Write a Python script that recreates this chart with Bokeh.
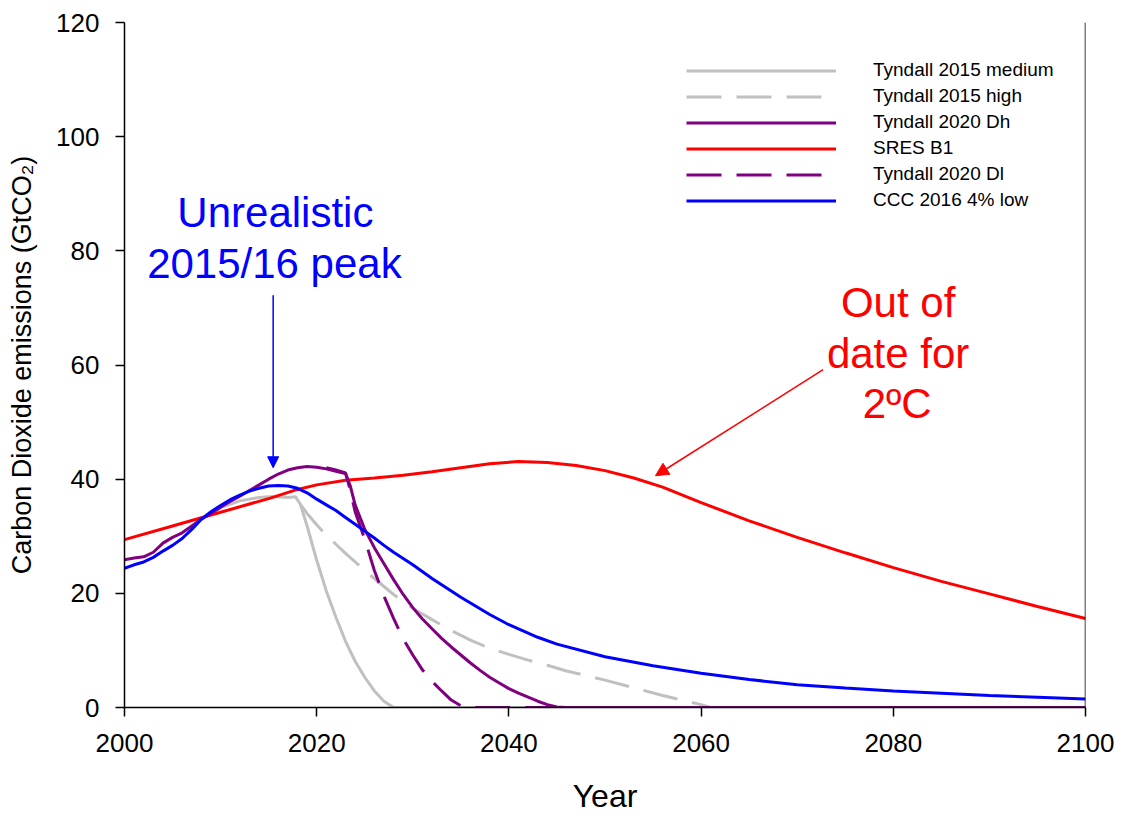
from bokeh.plotting import figure
from bokeh.models import Range1d, Legend, LegendItem, Label, Arrow, NormalHead, Span
from bokeh.embed import file_html
from bokeh.resources import INLINE

FONT = "Liberation Sans"

# ---------------- data ----------------
t15_med_years = [2008, 2010, 2012, 2014, 2015, 2016, 2017, 2017.8, 2018.3, 2019, 2020, 2021, 2022,
                 2023, 2024, 2025, 2026, 2027, 2028, 2100]
t15_med_vals = [33.0, 35.0, 36.2, 36.8, 36.9, 36.9, 36.8, 36.9, 35.6, 31.8, 25.8, 20.4, 15.8,
                11.6, 8.1, 5.3, 2.9, 1.1, 0.0, 0.0]

t15_high_years = [2018.3, 2019, 2020, 2021, 2022, 2023, 2024, 2025, 2026, 2027, 2028, 2030, 2032,
                  2034, 2036, 2038, 2040, 2042, 2044, 2046, 2048, 2050, 2052, 2054, 2056, 2058,
                  2060, 2061, 2100]
t15_high_vals = [35.6, 34.0, 32.0, 30.2, 28.6, 27.0, 25.5, 24.0, 22.6, 21.2, 19.8, 17.4, 15.4,
                 13.5, 11.8, 10.4, 9.3, 8.3, 7.4, 6.4, 5.6, 4.8, 3.9, 3.0, 2.1, 1.3,
                 0.5, 0.0, 0.0]

t20_dh_years = [2000, 2001, 2002, 2003, 2004, 2005, 2006, 2007, 2008, 2009, 2010, 2011, 2012,
                2013, 2014, 2015, 2016, 2017, 2018, 2019, 2020, 2021, 2022, 2023, 2023.5, 2024,
                2025, 2026, 2027, 2028, 2029, 2030, 2031, 2032, 2033, 2034, 2035, 2036, 2037,
                2038, 2039, 2040, 2041, 2042, 2043, 2044, 2045, 2046, 2100]
t20_dh_vals = [25.9, 26.2, 26.4, 27.2, 28.8, 29.8, 30.6, 31.8, 33.0, 34.0, 35.1, 36.1, 37.0,
               38.0, 39.0, 40.0, 40.9, 41.6, 42.0, 42.2, 42.1, 41.8, 41.4, 41.0, 38.8, 35.5,
               31.2, 28.0, 25.2, 22.4, 19.8, 17.5, 15.5, 13.8, 12.1, 10.6, 9.2, 7.8, 6.5,
               5.3, 4.3, 3.3, 2.5, 1.8, 1.1, 0.5, 0.1, 0.0, 0.0]

sres_b1_years = [2000, 2005, 2010, 2015, 2018, 2020, 2023, 2026, 2029, 2032, 2035, 2038, 2041,
                 2044, 2047, 2050, 2053, 2056, 2060, 2065, 2070, 2075, 2080, 2085, 2090, 2095, 2100]
sres_b1_vals = [29.4, 31.8, 34.2, 36.6, 38.2, 39.0, 39.8, 40.2, 40.7, 41.3, 42.0, 42.7, 43.1,
                42.9, 42.4, 41.5, 40.2, 38.6, 35.9, 32.7, 29.8, 27.1, 24.5, 22.1, 19.9, 17.7, 15.6]

t20_dl_years = [2021, 2022, 2023, 2023.5, 2024, 2025, 2026, 2027, 2028, 2029, 2030, 2031, 2032,
                2033, 2034, 2035, 2036, 2100]
t20_dl_vals = [42.0, 41.6, 41.1, 38.0, 34.3, 29.5, 24.0, 19.5, 15.6, 12.0, 9.2, 6.6, 4.6,
               2.9, 1.3, 0.3, 0.0, 0.0]

ccc_years = [2000, 2001, 2002, 2003, 2004, 2005, 2006, 2007, 2008, 2009, 2010, 2011, 2012, 2013,
             2014, 2015, 2016, 2017, 2018, 2019, 2020, 2021, 2022, 2023, 2024, 2025, 2026, 2027,
             2028, 2029, 2030, 2032, 2035, 2038, 2040, 2043, 2045, 2050, 2055, 2060, 2065, 2070,
             2075, 2080, 2085, 2090, 2095, 2100]
ccc_vals = [24.4, 25.0, 25.5, 26.3, 27.4, 28.4, 29.6, 31.2, 33.0, 34.3, 35.4, 36.4, 37.2, 37.9,
            38.4, 38.8, 38.9, 38.8, 38.4, 37.6, 36.5, 35.5, 34.5, 33.3, 32.1, 30.9, 29.7, 28.4,
            27.2, 26.1, 25.0, 22.6, 19.3, 16.3, 14.5, 12.3, 11.1, 8.9, 7.3, 6.0, 4.9, 4.0,
            3.4, 2.9, 2.5, 2.1, 1.8, 1.5]

x_ticks = [2000, 2020, 2040, 2060, 2080, 2100]
y_ticks = [0, 20, 40, 60, 80, 100, 120]

series_labels = ["Tyndall 2015 medium", "Tyndall 2015 high", "Tyndall 2020 Dh",
                 "SRES B1", "Tyndall 2020 Dl", "CCC 2016 4% low"]

# ---------------- figure ----------------
p = figure(width=1120, height=816, output_backend="svg", toolbar_location=None,
           x_range=Range1d(2000, 2100), y_range=Range1d(0, 120),
           min_border_left=124, min_border_top=22, min_border_right=35, min_border_bottom=109)
p.outline_line_color = None
p.xgrid.visible = False
p.ygrid.visible = False
p.background_fill_color = "white"
p.border_fill_color = "white"

for ax in (p.xaxis[0], p.yaxis[0]):
    ax.axis_line_color = "black"
    ax.axis_line_width = 1.5
    ax.major_tick_line_color = "black"
    ax.major_tick_line_width = 1.5
    ax.major_tick_in = 0
    ax.major_tick_out = 9
    ax.minor_tick_line_color = None
    ax.major_label_text_font = FONT
    ax.major_label_text_font_size = "26px"
    ax.major_label_text_color = "black"
    ax.axis_label_text_font = FONT
    ax.axis_label_text_font_style = "normal"
    ax.axis_label_text_color = "black"

p.xaxis.ticker = x_ticks
p.yaxis.ticker = y_ticks
p.xaxis.major_label_standoff = 17
p.yaxis.major_label_standoff = 16
p.xaxis.axis_label = "Year"
p.xaxis.axis_label_text_font_size = "32px"
p.xaxis.axis_label_standoff = 23
p.yaxis.axis_label = "Carbon Dioxide emissions (GtCO\u2082)"
p.yaxis.axis_label_text_font_size = "27px"
p.yaxis.axis_label_standoff = 16

# right-hand frame edge
p.add_layout(Span(location=2100, dimension="height", line_color="black", line_width=1.5))

LW = 3
r_med = p.line(t15_med_years, t15_med_vals, line_color="#C0C0C0", line_width=LW)
r_high = p.line(t15_high_years, t15_high_vals, line_color="#C0C0C0", line_width=LW, line_dash="35 15")
r_sres = p.line(sres_b1_years, sres_b1_vals, line_color="#FF0000", line_width=LW)
r_dh = p.line(t20_dh_years, t20_dh_vals, line_color="#800080", line_width=LW)
r_dl = p.line(t20_dl_years, t20_dl_vals, line_color="#800080", line_width=LW, line_dash="35 15")
r_ccc = p.line(ccc_years, ccc_vals, line_color="#0000FF", line_width=LW)

renderers = [r_med, r_high, r_dh, r_sres, r_dl, r_ccc]
legend = Legend(items=[LegendItem(label=lab, renderers=[r]) for lab, r in zip(series_labels, renderers)],
                location=(562, 496), orientation="vertical",
                glyph_width=150, glyph_height=21, label_height=21, label_standoff=37, spacing=4,
                padding=0, margin=0, border_line_color=None, background_fill_alpha=0,
                label_text_font=FONT, label_text_font_size="19px", label_text_color="black")
p.add_layout(legend)

# ---------------- annotations ----------------
def add_label(x, y, text, color):
    p.add_layout(Label(x=x, y=y, text=text, text_color=color, text_font=FONT, y_offset=15,
                       text_font_size="42px", text_align="center", text_baseline="alphabetic"))

add_label(2015.7, 84.1, "Unrealistic", "#0000FF")
add_label(2015.6, 75.2, "2015/16 peak", "#0000FF")
add_label(2080.5, 68.3, "Out of", "#FF0000")
add_label(2080.5, 59.4, "date for", "#FF0000")
add_label(2080.4, 50.6, "2\u00baC", "#FF0000")

p.add_layout(Arrow(end=NormalHead(size=11, fill_color="#0000FF", line_color="#0000FF", line_width=1),
                   x_start=2015.47, y_start=72.2, x_end=2015.47, y_end=42.0,
                   line_color="#0000FF", line_width=1.5))
p.add_layout(Arrow(end=NormalHead(size=13, fill_color="#FF0000", line_color="#FF0000", line_width=1),
                   x_start=2072.7, y_start=59.2, x_end=2055.25, y_end=40.6,
                   line_color="#FF0000", line_width=1.5))

open("out.html", "w").write(file_html(p, INLINE))
